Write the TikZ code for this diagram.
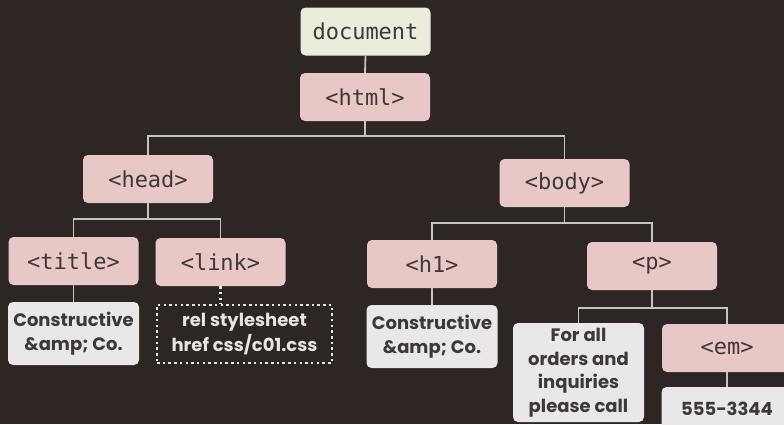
\documentclass[tikz,border=0pt]{standalone}
\usepackage{fontspec}
\setmainfont{Poppins}
\newfontfamily\tagfont{DejaVu Sans Mono}
\definecolor{bg}{RGB}{45,38,36}
\definecolor{pinkc}{RGB}{232,200,198}
\definecolor{creamc}{RGB}{236,236,221}
\definecolor{whitec}{RGB}{233,231,232}
\definecolor{txt}{RGB}{62,56,56}
\definecolor{linec}{RGB}{200,195,190}
\definecolor{dotc}{RGB}{232,228,224}
\begin{document}
\begin{tikzpicture}[x=1pt,y=-1pt,
  tagbox/.style={fill=pinkc, rounded corners=5pt, minimum width=130pt, minimum height=48pt, inner sep=0pt, text=txt, font=\tagfont\fontsize{22}{26}\selectfont},
  docbox/.style={tagbox, fill=creamc},
  textbox/.style={fill=whitec, rounded corners=5pt, minimum width=131pt, inner sep=0pt, text=txt, align=center, font=\bfseries\fontsize{18}{23.5}\selectfont},
  dotbox/.style={draw=dotc, line width=2.5pt, dash pattern=on 2.5pt off 3.2pt, minimum width=175pt, minimum height=58pt, inner sep=0pt, text=dotc, align=center, font=\bfseries\fontsize{18}{25}\selectfont},
  conn/.style={draw=linec, line width=1.8pt},
  dotconn/.style={draw=dotc, line width=2.5pt, dash pattern=on 2.5pt off 3.2pt}]
\fill[bg] (0,0) rectangle (784,424);
\useasboundingbox (0,0) rectangle (784,424);
\clip (0,0) rectangle (784,424);

\coordinate (j0) at (0,136);
\coordinate (j1) at (0,219);
\coordinate (j2) at (0,223);
\coordinate (j3) at (0,308);

\node[docbox] (doc) at (365.5,31.5) {document};
\node[tagbox] (html) at (365,97) {<html>};
\node[tagbox] (head) at (148,179) {<head>};
\node[tagbox] (body) at (564.5,183) {<body>};
\node[tagbox] (title) at (73.5,261) {<title>};
\node[tagbox] (link) at (220.5,262) {<link>};
\node[textbox, minimum height=63pt] (c1) at (73.5,333.5) {Constructive\\\&amp; Co.};
\node[dotbox] (rel) at (244.5,334) {rel stylesheet\\href css/c01.css};
\node[tagbox] (h1) at (432,264) {<h1>};
\node[tagbox] (p) at (652,266) {<p>};
\node[textbox, minimum height=63pt] (c2) at (432,336.5) {Constructive\\\&amp; Co.};
\node[textbox, minimum height=99pt] (for) at (578.5,372.5) {For all\\orders and\\inquiries\\please call};
\node[tagbox] (em) at (727,348) {<em>};
\node[textbox, minimum height=44pt] (num) at (727,409) {555-3344};

\draw[conn] (doc.south) -- (html.north);
\draw[conn] (html.south) -- (html.south |- j0) -| (head.north);
\draw[conn] (html.south |- j0) -| (body.north);
\draw[conn] (head.south) -- (head.south |- j1) -| (title.north);
\draw[conn] (head.south |- j1) -| (link.north);
\draw[conn] (title.south) -- (c1.north);
\draw[dotconn] (link.south) -- (link.south |- rel.north);
\draw[conn] (body.south) -- (body.south |- j2) -| (h1.north);
\draw[conn] (body.south |- j2) -| (p.north);
\draw[conn] (h1.south) -- (c2.north);
\draw[conn] (p.south) -- (p.south |- j3) -| (for.north);
\draw[conn] (p.south |- j3) -| (em.north);
\draw[conn] (em.south) -- (num.north);
\end{tikzpicture}
\end{document}
